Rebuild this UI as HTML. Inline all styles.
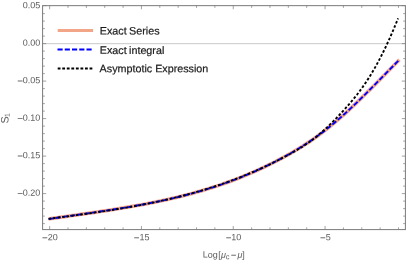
<!DOCTYPE html>
<html><head><meta charset="utf-8"><title>Plot</title>
<style>html,body{margin:0;padding:0;background:#fff;width:407px;height:262px;overflow:hidden;font-family:"Liberation Sans",sans-serif}</style>
</head><body>
<svg width="407" height="262" viewBox="0 0 407 262" style="position:absolute;left:0;top:0;display:block">
<rect width="407" height="262" fill="#fff"/>
<line x1="42.6" x2="405.4" y1="43.70" y2="43.70" stroke="#c2c2c2" stroke-width="0.9"/>
<path d="M48.60,219.02 L51.55,218.58 L54.50,218.14 L57.44,217.71 L60.39,217.29 L63.34,216.86 L66.29,216.43 L69.24,216.01 L72.18,215.59 L75.13,215.17 L78.08,214.75 L81.03,214.32 L83.97,213.90 L86.92,213.47 L89.87,213.05 L92.82,212.62 L95.77,212.18 L98.71,211.75 L101.66,211.31 L104.61,210.86 L107.56,210.41 L110.51,209.96 L113.45,209.50 L116.40,209.03 L119.35,208.56 L122.30,208.08 L125.25,207.59 L128.19,207.10 L131.14,206.59 L134.09,206.08 L137.04,205.55 L139.98,205.02 L142.93,204.48 L145.88,203.92 L148.83,203.35 L151.78,202.78 L154.72,202.19 L157.67,201.58 L160.62,200.96 L163.57,200.33 L166.52,199.69 L169.46,199.03 L172.41,198.35 L175.36,197.66 L178.31,196.96 L181.26,196.23 L184.20,195.49 L187.15,194.74 L190.10,193.96 L193.05,193.17 L195.99,192.35 L198.94,191.52 L201.89,190.67 L204.84,189.79 L207.79,188.90 L210.73,187.98 L213.68,187.05 L216.63,186.09 L219.58,185.10 L222.53,184.10 L225.47,183.07 L228.42,182.02 L231.37,180.94 L234.32,179.84 L237.27,178.71 L240.21,177.55 L243.16,176.37 L246.11,175.16 L249.06,173.93 L252.01,172.66 L254.95,171.37 L257.90,170.05 L260.85,168.70 L263.80,167.32 L266.74,165.91 L269.69,164.47 L272.64,163.00 L275.59,161.50 L278.54,159.96 L281.48,158.39 L284.43,156.79 L287.38,155.15 L290.33,153.48 L293.28,151.78 L296.22,150.04 L299.17,148.25 L302.12,146.43 L305.07,144.55 L308.02,142.62 L310.96,140.64 L313.91,138.61 L316.86,136.51 L319.81,134.35 L322.75,132.13 L325.70,129.85 L328.65,127.52 L331.60,125.13 L334.55,122.68 L337.49,120.18 L340.44,117.63 L343.39,115.03 L346.34,112.37 L349.29,109.66 L352.23,106.91 L355.18,104.12 L358.13,101.28 L361.08,98.41 L364.03,95.51 L366.97,92.59 L369.92,89.63 L372.87,86.66 L375.82,83.68 L378.76,80.68 L381.71,77.68 L384.66,74.67 L387.61,71.66 L390.56,68.66 L393.50,65.67 L396.45,62.69 L399.40,59.73" fill="none" stroke="#f2a587" stroke-width="3.6"/>
<path d="M48.60,219.02 L51.55,218.58 L54.50,218.14 L57.44,217.71 L60.39,217.29 L63.34,216.86 L66.29,216.43 L69.24,216.01 L72.18,215.59 L75.13,215.17 L78.08,214.75 L81.03,214.32 L83.97,213.90 L86.92,213.47 L89.87,213.05 L92.82,212.62 L95.77,212.18 L98.71,211.75 L101.66,211.31 L104.61,210.86 L107.56,210.41 L110.51,209.96 L113.45,209.50 L116.40,209.03 L119.35,208.56 L122.30,208.08 L125.25,207.59 L128.19,207.10 L131.14,206.59 L134.09,206.08 L137.04,205.55 L139.98,205.02 L142.93,204.48 L145.88,203.92 L148.83,203.35 L151.78,202.78 L154.72,202.19 L157.67,201.58 L160.62,200.96 L163.57,200.33 L166.52,199.69 L169.46,199.03 L172.41,198.35 L175.36,197.66 L178.31,196.96 L181.26,196.23 L184.20,195.49 L187.15,194.74 L190.10,193.96 L193.05,193.17 L195.99,192.35 L198.94,191.52 L201.89,190.67 L204.84,189.79 L207.79,188.90 L210.73,187.98 L213.68,187.05 L216.63,186.09 L219.58,185.10 L222.53,184.10 L225.47,183.07 L228.42,182.02 L231.37,180.94 L234.32,179.84 L237.27,178.71 L240.21,177.55 L243.16,176.37 L246.11,175.16 L249.06,173.93 L252.01,172.66 L254.95,171.37 L257.90,170.05 L260.85,168.70 L263.80,167.32 L266.74,165.91 L269.69,164.47 L272.64,163.00 L275.59,161.50 L278.54,159.96 L281.48,158.39 L284.43,156.79 L287.38,155.15 L290.33,153.48 L293.28,151.78 L296.22,150.04 L299.17,148.25 L302.12,146.43 L305.07,144.55 L308.02,142.62 L310.96,140.64 L313.91,138.61 L316.86,136.51 L319.81,134.35 L322.75,132.13 L325.70,129.85 L328.65,127.52 L331.60,125.13 L334.55,122.68 L337.49,120.18 L340.44,117.63 L343.39,115.03 L346.34,112.37 L349.29,109.66 L352.23,106.91 L355.18,104.12 L358.13,101.28 L361.08,98.41 L364.03,95.51 L366.97,92.59 L369.92,89.63 L372.87,86.66 L375.82,83.68 L378.76,80.68 L381.71,77.68 L384.66,74.67 L387.61,71.66 L390.56,68.66 L393.50,65.67 L396.45,62.69 L399.40,59.73" fill="none" stroke="#0000ff" stroke-width="1.9" stroke-dasharray="5.1 2.12"/>
<path d="M48.60,218.82 L51.54,218.43 L54.47,218.04 L57.41,217.65 L60.35,217.27 L63.28,216.88 L66.22,216.49 L69.16,216.10 L72.09,215.70 L75.03,215.31 L77.97,214.91 L80.90,214.51 L83.84,214.10 L86.78,213.69 L89.71,213.28 L92.65,212.86 L95.58,212.43 L98.52,212.00 L101.46,211.57 L104.39,211.13 L107.33,210.68 L110.27,210.23 L113.20,209.76 L116.14,209.29 L119.08,208.82 L122.01,208.33 L124.95,207.83 L127.89,207.33 L130.82,206.81 L133.76,206.29 L136.70,205.76 L139.63,205.21 L142.57,204.65 L145.51,204.09 L148.44,203.51 L151.38,202.91 L154.32,202.31 L157.25,201.69 L160.19,201.06 L163.13,200.41 L166.06,199.75 L169.00,199.08 L171.94,198.39 L174.87,197.69 L177.81,196.97 L180.74,196.23 L183.68,195.48 L186.62,194.71 L189.55,193.92 L192.49,193.12 L195.43,192.30 L198.36,191.46 L201.30,190.60 L204.24,189.72 L207.17,188.82 L210.11,187.90 L213.05,186.97 L215.98,186.01 L218.92,185.03 L221.86,184.03 L224.79,183.00 L227.73,181.96 L230.67,180.89 L233.60,179.80 L236.54,178.69 L239.48,177.55 L242.41,176.39 L245.35,175.21 L248.29,173.99 L251.22,172.76 L254.16,171.50 L257.10,170.21 L260.03,168.90 L262.97,167.56 L265.91,166.19 L268.84,164.80 L271.78,163.38 L274.71,161.92 L277.65,160.45 L280.59,158.94 L283.52,157.40 L286.46,155.83 L289.40,154.24 L292.33,152.61 L295.27,150.94 L298.21,149.22 L301.14,147.44 L304.08,145.58 L307.02,143.63 L309.95,141.59 L312.89,139.44 L315.83,137.16 L318.76,134.76 L321.70,132.24 L324.64,129.60 L327.57,126.86 L330.51,124.03 L333.45,121.10 L336.38,118.09 L339.32,115.01 L342.26,111.85 L345.19,108.64 L348.13,105.35 L351.07,101.95 L354.00,98.43 L356.94,94.76 L359.87,90.92 L362.81,86.88 L365.75,82.63 L368.68,78.14 L371.62,73.40 L374.56,68.40 L377.49,63.14 L380.43,57.60 L383.37,51.80 L386.30,45.71 L389.24,39.33 L392.18,32.66 L395.11,25.70 L398.05,18.43" fill="none" stroke="#000" stroke-width="1.9" stroke-dasharray="2.6 1.95"/>
<rect x="42.6" y="5.65" width="362.79999999999995" height="223.95" fill="none" stroke="#7a7a7a" stroke-width="1"/>
<path d="M49.65,229.6v-3.6M49.65,5.65v3.6M68.01,229.6v-2.2M68.01,5.65v2.2M86.37,229.6v-2.2M86.37,5.65v2.2M104.73,229.6v-2.2M104.73,5.65v2.2M123.09,229.6v-2.2M123.09,5.65v2.2M141.45,229.6v-3.6M141.45,5.65v3.6M159.81,229.6v-2.2M159.81,5.65v2.2M178.17,229.6v-2.2M178.17,5.65v2.2M196.53,229.6v-2.2M196.53,5.65v2.2M214.89,229.6v-2.2M214.89,5.65v2.2M233.25,229.6v-3.6M233.25,5.65v3.6M251.61,229.6v-2.2M251.61,5.65v2.2M269.97,229.6v-2.2M269.97,5.65v2.2M288.33,229.6v-2.2M288.33,5.65v2.2M306.69,229.6v-2.2M306.69,5.65v2.2M325.05,229.6v-3.6M325.05,5.65v3.6M343.41,229.6v-2.2M343.41,5.65v2.2M361.77,229.6v-2.2M361.77,5.65v2.2M380.13,229.6v-2.2M380.13,5.65v2.2M398.49,229.6v-2.2M398.49,5.65v2.2M42.6,223.60h2.2M405.4,223.60h-2.2M42.6,216.10h2.2M405.4,216.10h-2.2M42.6,208.60h2.2M405.4,208.60h-2.2M42.6,201.10h2.2M405.4,201.10h-2.2M42.6,193.60h3.6M405.4,193.60h-3.6M42.6,186.10h2.2M405.4,186.10h-2.2M42.6,178.60h2.2M405.4,178.60h-2.2M42.6,171.10h2.2M405.4,171.10h-2.2M42.6,163.60h2.2M405.4,163.60h-2.2M42.6,156.10h3.6M405.4,156.10h-3.6M42.6,148.60h2.2M405.4,148.60h-2.2M42.6,141.10h2.2M405.4,141.10h-2.2M42.6,133.60h2.2M405.4,133.60h-2.2M42.6,126.10h2.2M405.4,126.10h-2.2M42.6,118.60h3.6M405.4,118.60h-3.6M42.6,111.10h2.2M405.4,111.10h-2.2M42.6,103.60h2.2M405.4,103.60h-2.2M42.6,96.10h2.2M405.4,96.10h-2.2M42.6,88.60h2.2M405.4,88.60h-2.2M42.6,81.10h3.6M405.4,81.10h-3.6M42.6,73.60h2.2M405.4,73.60h-2.2M42.6,66.10h2.2M405.4,66.10h-2.2M42.6,58.60h2.2M405.4,58.60h-2.2M42.6,51.10h2.2M405.4,51.10h-2.2M42.6,43.60h3.6M405.4,43.60h-3.6M42.6,36.10h2.2M405.4,36.10h-2.2M42.6,28.60h2.2M405.4,28.60h-2.2M42.6,21.10h2.2M405.4,21.10h-2.2M42.6,13.60h2.2M405.4,13.60h-2.2M42.6,5.65h3.6M405.4,5.65h-3.6" stroke="#7a7a7a" stroke-width="0.7" fill="none"/>
<defs><filter id="f" x="0" y="0" width="100%" height="100%" filterUnits="userSpaceOnUse"><feOffset dx="0" dy="0"/></filter></defs><g filter="url(#f)">
<text x="50.05" y="240.2" transform="rotate(0.05 49.6 240)" text-anchor="middle" font-family="Liberation Sans, sans-serif" font-size="9" fill="#5c5c5c"><tspan dy="0.5" stroke="#5c5c5c" stroke-width="0.25">−</tspan><tspan dx="0.2" dy="-0.5">20</tspan></text>
<text x="141.85" y="240.2" transform="rotate(0.05 141.4 240)" text-anchor="middle" font-family="Liberation Sans, sans-serif" font-size="9" fill="#5c5c5c"><tspan dy="0.5" stroke="#5c5c5c" stroke-width="0.25">−</tspan><tspan dx="0.2" dy="-0.5">15</tspan></text>
<text x="233.65" y="240.2" transform="rotate(0.05 233.2 240)" text-anchor="middle" font-family="Liberation Sans, sans-serif" font-size="9" fill="#5c5c5c"><tspan dy="0.5" stroke="#5c5c5c" stroke-width="0.25">−</tspan><tspan dx="0.2" dy="-0.5">10</tspan></text>
<text x="325.45" y="240.2" transform="rotate(0.05 325.0 240)" text-anchor="middle" font-family="Liberation Sans, sans-serif" font-size="9" fill="#5c5c5c"><tspan dy="0.5" stroke="#5c5c5c" stroke-width="0.25">−</tspan><tspan dx="0.2" dy="-0.5">5</tspan></text>
<text x="40.3" y="8.30" transform="rotate(0.05 30 6.1)" text-anchor="end" font-family="Liberation Sans, sans-serif" font-size="9" fill="#5c5c5c">0.05</text>
<text x="40.3" y="45.80" transform="rotate(0.05 30 43.6)" text-anchor="end" font-family="Liberation Sans, sans-serif" font-size="9" fill="#5c5c5c">0.00</text>
<text x="40.3" y="83.30" transform="rotate(0.05 30 81.1)" text-anchor="end" font-family="Liberation Sans, sans-serif" font-size="9" fill="#5c5c5c"><tspan dy="0.6" stroke="#5c5c5c" stroke-width="0.25">−</tspan><tspan dx="0.1" dy="-0.6">0.05</tspan></text>
<text x="40.3" y="120.80" transform="rotate(0.05 30 118.6)" text-anchor="end" font-family="Liberation Sans, sans-serif" font-size="9" fill="#5c5c5c"><tspan dy="0.6" stroke="#5c5c5c" stroke-width="0.25">−</tspan><tspan dx="0.1" dy="-0.6">0.10</tspan></text>
<text x="40.3" y="158.30" transform="rotate(0.05 30 156.1)" text-anchor="end" font-family="Liberation Sans, sans-serif" font-size="9" fill="#5c5c5c"><tspan dy="0.6" stroke="#5c5c5c" stroke-width="0.25">−</tspan><tspan dx="0.1" dy="-0.6">0.15</tspan></text>
<text x="40.3" y="195.80" transform="rotate(0.05 30 193.6)" text-anchor="end" font-family="Liberation Sans, sans-serif" font-size="9" fill="#5c5c5c"><tspan dy="0.6" stroke="#5c5c5c" stroke-width="0.25">−</tspan><tspan dx="0.1" dy="-0.6">0.20</tspan></text>
<text x="202.8" y="257.65" transform="rotate(0.05 223 257)" font-family="Liberation Sans, sans-serif" font-size="9" fill="#5c5c5c">Log<tspan dx="0.5">[</tspan><tspan font-style="italic" dx="0.1">μ</tspan><tspan font-size="7.5" dy="1.5" dx="0">c</tspan><tspan dy="-1.0" dx="1.5" stroke="#5c5c5c" stroke-width="0.2">−</tspan><tspan font-style="italic" dx="1.0" dy="-0.5">μ</tspan>]</text>
<text transform="translate(8.4,123.6) rotate(-90.05)" font-family="Liberation Sans, sans-serif" fill="#5c5c5c" font-size="10.8">S<tspan font-size="7" dy="1.1" dx="-0.5">1</tspan></text>
<line x1="57.7" x2="93.1" y1="30.45" y2="30.45" stroke="#f2a587" stroke-width="3.1"/>
<line x1="57.5" x2="93" y1="49.5" y2="49.5" stroke="#0000ff" stroke-width="2.0" stroke-dasharray="5.15 2.1"/>
<line x1="57.7" x2="93" y1="68.45" y2="68.45" stroke="#000" stroke-width="1.85" stroke-dasharray="2.8 1.75"/>
<text word-spacing="-0.5" x="99.75" y="34.5" transform="rotate(0.05 130 34)" font-family="Liberation Sans, sans-serif" font-size="10.75" fill="#1a1a1a" stroke="#1a1a1a" stroke-width="0.2">Exact Series</text>
<text word-spacing="-0.6" x="99.75" y="53.9" transform="rotate(0.05 130 53)" font-family="Liberation Sans, sans-serif" font-size="10.75" fill="#1a1a1a" stroke="#1a1a1a" stroke-width="0.2">Exact integral</text>
<text x="99.6" y="72.2" transform="rotate(0.05 150 72)" font-family="Liberation Sans, sans-serif" font-size="10.75" fill="#1a1a1a" stroke="#1a1a1a" stroke-width="0.2">Asymptotic Expression</text>
</g>
</svg>
</body></html>
